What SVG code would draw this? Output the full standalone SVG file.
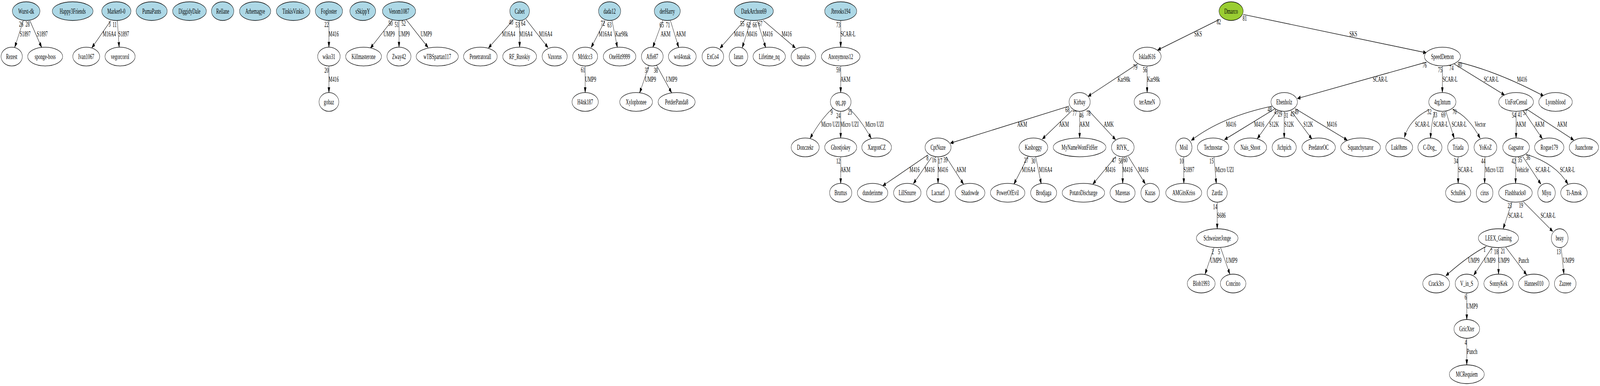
<svg xmlns="http://www.w3.org/2000/svg" width="7068" height="987" viewBox="0 0 7068 987" preserveAspectRatio="none">
<style>
svg{width:100vw;height:100vh;overflow:hidden}
text{font-family:"Liberation Serif","Times New Roman",serif;font-size:18.67px;text-anchor:middle;fill:#000}
.node ellipse{fill:#fff;stroke:#000;stroke-width:1.33}
.node.root ellipse{fill:#add8e6}
.node.top ellipse{fill:#9acd32}
#edges path{fill:none;stroke:#000;stroke-width:1.33;marker-end:url(#arr)}
</style>
<defs>
<marker id="arr" markerUnits="userSpaceOnUse" markerWidth="14" markerHeight="10" refX="13.3" refY="4.67" orient="auto">
<path d="M0,0 L13.3,4.67 L0,9.33 Z" fill="#000" stroke="#000" stroke-width="1"/>
</marker>
</defs>
<rect width="7068" height="987" fill="#fff"/>
<g id="edges">
<g><path d="M103,53 L65,121"/><text x="111" y="93.5">S1897</text><text x="93.6" y="68.5">26</text></g>
<g><path d="M132,53 L183.7,121"/><text x="186.6" y="93.5">S1897</text><text x="122" y="68.5">28</text></g>
<g><path d="M489,53 L406,122"/><text x="483" y="93.5">M16A4</text><text x="484" y="68.5">3</text></g>
<g><path d="M518.4,52.5 L526.4,121"/><text x="546.5" y="93.5">S1897</text><text x="506.3" y="69.5">11</text></g>
<g><path d="M1453,52.5 L1453,120.6"/><text x="1474" y="93.5">M416</text><text x="1442.5" y="69.5">22</text></g>
<g><path d="M1453,168.6 L1453,236.7"/><text x="1474" y="209">M416</text><text x="1442.5" y="186.5">20</text></g>
<g><path d="M1733.5,51 L1636.5,123"/><text x="1719" y="93.5">UMP9</text><text x="1725" y="66.5">50</text></g>
<g><path d="M1762.7,52.5 L1762.7,120.6"/><text x="1785" y="93.5">UMP9</text><text x="1752.5" y="69.5">51</text></g>
<g><path d="M1794,50 L1891,121.4"/><text x="1883" y="93.5">UMP9</text><text x="1783" y="66.5">52</text></g>
<g><path d="M2268.6,50 L2158,122.5"/><text x="2247" y="93.5">M16A4</text><text x="2257.4" y="63.5">40</text></g>
<g><path d="M2295.5,52.5 L2295.5,120.6"/><text x="2322.6" y="93.5">M16A4</text><text x="2286" y="70">53</text></g>
<g><path d="M2323.3,49.3 L2420.8,121.8"/><text x="2410.3" y="93.5">M16A4</text><text x="2311.4" y="66.5">64</text></g>
<g><path d="M2672.7,52.5 L2611.6,121.4"/><text x="2674" y="93.5">M16A4</text><text x="2662.9" y="66.5">72</text></g>
<g><path d="M2703.5,53 L2727.4,121.4"/><text x="2745.6" y="93.5">Kar98k</text><text x="2692.3" y="70">63</text></g>
<g><path d="M2585,168.6 L2585,236.7"/><text x="2608.8" y="209">UMP9</text><text x="2575.2" y="185">61</text></g>
<g><path d="M2866.3,169 L2825.6,237.5"/><text x="2873.3" y="209">UMP9</text><text x="2857.2" y="186.5">37</text></g>
<g><path d="M2900,166.5 L2966.6,237"/><text x="2966.6" y="209">UMP9</text><text x="2897" y="186.5">38</text></g>
<g><path d="M2928,51.5 L2884,121"/><text x="2940" y="93.5">AKM</text><text x="2923" y="70">65</text></g>
<g><path d="M2961.7,53 L2998.2,121.4"/><text x="3007.3" y="93.5">AKM</text><text x="2950.5" y="70">71</text></g>
<g><path d="M3290.7,51 L3180.6,123.2"/><text x="3264.8" y="93.5">M416</text><text x="3278.8" y="67">55</text></g>
<g><path d="M3316,53 L3278.8,122"/><text x="3322.3" y="93.5">M416</text><text x="3306.9" y="70">62</text></g>
<g><path d="M3345.5,53 L3382.6,122"/><text x="3391" y="93.5">M416</text><text x="3334.2" y="70">66</text></g>
<g><path d="M3371.4,52 L3513.8,122.5"/><text x="3475.2" y="93.5">M416</text><text x="3358.8" y="67">67</text></g>
<g><path d="M3713.8,52.5 L3713.8,120.6"/><text x="3746" y="93.5">SCAR-L</text><text x="3703.2" y="70">73</text></g>
<g><path d="M3713.8,168.6 L3713.8,236.7"/><text x="3734.8" y="209">AKM</text><text x="3703.2" y="185">59</text></g>
<g><path d="M3680,276 Q3625,305 3579,353.6"/><text x="3668.2" y="324.5">Micro UZI</text><text x="3673.8" y="293.5">9</text></g>
<g><path d="M3713.8,284.7 L3713.8,352.8"/><text x="3752.3" y="324.5">Micro UZI</text><text x="3703.2" y="302">24</text></g>
<g><path d="M3748,276 Q3802,305 3848.4,353.6"/><text x="3863.2" y="324.5">Micro UZI</text><text x="3754.4" y="293.5">25</text></g>
<g><path d="M3713.8,400.8 L3713.8,469"/><text x="3734.8" y="440.5">AKM</text><text x="3703.2" y="418.3">12</text></g>
<g><path d="M4098.2,396.4 L3899.7,475"/><text x="4040" y="440.5">M416</text><text x="4096.8" y="410">8</text></g>
<g><path d="M4115.7,401.8 L4035,469.6"/><text x="4106.6" y="440.5">M416</text><text x="4126.3" y="415.5">16</text></g>
<g><path d="M4143.8,400.8 L4143.8,469"/><text x="4165.6" y="440.5">M416</text><text x="4152.9" y="418.3">17</text></g>
<g><path d="M4178.9,400.7 L4256,470.7"/><text x="4245.5" y="440.5">AKM</text><text x="4176.8" y="415.5">39</text></g>
<g><path d="M4722.6,271.4 L4198.5,366"/><text x="4515.6" y="324.5">AKM</text><text x="4715.5" y="287">68</text></g>
<g><path d="M4736.6,282 L4604.7,355.4"/><text x="4700.1" y="324.5">AKM</text><text x="4747" y="295.8">77</text></g>
<g><path d="M4769.3,284.7 L4769.3,352.8"/><text x="4790.6" y="324.5">AKM</text><text x="4777.3" y="301">46</text></g>
<g><path d="M4808.1,282 L4928.1,357"/><text x="4897.9" y="324.5">AMK</text><text x="4808" y="295.8">78</text></g>
<g><path d="M4541.6,400 L4479.1,470.7"/><text x="4543.7" y="440.5">M16A4</text><text x="4533.1" y="416.5">27</text></g>
<g><path d="M4575.2,401 L4599.8,470.5"/><text x="4618.7" y="440.5">M16A4</text><text x="4564.7" y="418.3">30</text></g>
<g><path d="M4929.5,400 L4827.8,470.7"/><text x="4905" y="440.5">M416</text><text x="4921" y="416.5">47</text></g>
<g><path d="M4959.5,401 L4959.5,469"/><text x="4980.7" y="440.5">M416</text><text x="4950.5" y="418.3">58</text></g>
<g><path d="M4984.2,400 L5059.3,470"/><text x="5050.2" y="440.5">M416</text><text x="4971.6" y="415.5">60</text></g>
<g><path d="M5025,163.3 L4806.7,246.4"/><text x="4965" y="209.5">Kar98k</text><text x="5015" y="178.5">79</text></g>
<g><path d="M5067.5,168.6 L5067.5,236.7"/><text x="5095.7" y="209.5">Kar98k</text><text x="5057.9" y="185">56</text></g>
<g><path d="M5385.7,50 L5114,128"/><text x="5292.6" y="93">SKS</text><text x="5384" y="62.5">82</text></g>
<g><path d="M5491.6,36.8 L6300.6,135"/><text x="5978" y="93">SKS</text><text x="5498.6" y="53">81</text></g>
<g><path d="M6300.6,159 L5731.4,251.8"/><text x="6097.6" y="209.5">SCAR-L</text><text x="6293.2" y="173.5">76</text></g>
<g><path d="M5619.8,271.4 Q5396.6,298.9 5262.6,358.9"/><text x="5438" y="324.5">M416</text><text x="5609" y="286">48</text></g>
<g><path d="M5632.5,277.9 L5409.3,357"/><text x="5562.4" y="324.5">M416</text><text x="5637.6" y="292.2">43</text></g>
<g><path d="M5640.8,284 L5554.1,354.6"/><text x="5628" y="324.5">S12K</text><text x="5654.8" y="298.5">29</text></g>
<g><path d="M5673,284.7 L5673,352.8"/><text x="5694.4" y="324.5">S12K</text><text x="5681.6" y="301">31</text></g>
<g><path d="M5702.7,283 L5795.2,355.4"/><text x="5779.2" y="324.5">S12K</text><text x="5709" y="298.5">45</text></g>
<g><path d="M5721.8,277.9 L5951.4,358.2"/><text x="5883.2" y="324.5">M416</text><text x="5727" y="292.2">49</text></g>
<g><path d="M5229.5,400.8 L5229.5,469"/><text x="5251.8" y="440.5">S1897</text><text x="5219.3" y="418.3">10</text></g>
<g><path d="M5362.8,401 L5373,469.6"/><text x="5409.3" y="440.5">Micro UZI</text><text x="5351.9" y="418.3">15</text></g>
<g><path d="M5377,517 L5377,585"/><text x="5395.3" y="557">S686</text><text x="5367.9" y="534.8">14</text></g>
<g><path d="M5362.8,633.3 L5323.2,701"/><text x="5371" y="672">UMP9</text><text x="5357" y="649.8">2</text></g>
<g><path d="M5392.1,633.3 L5432.9,701"/><text x="5441.2" y="672">UMP9</text><text x="5385" y="649.8">5</text></g>
<g><path d="M6371.6,168.6 L6371.6,236.7"/><text x="6405.6" y="209">SCAR-L</text><text x="6361.7" y="185">75</text></g>
<g><path d="M6424,163.6 L6646.3,242.9"/><text x="6587.7" y="209">SCAR-L</text><text x="6411.7" y="179.7">74</text></g>
<g><path d="M6442.6,159 Q6618.5,183.6 6819.1,245.4"/><text x="6723.5" y="209">M416</text><text x="6448.8" y="172.5">80</text></g>
<g><path d="M6313,280.4 Q6225.6,305.3 6203.7,351.8"/><text x="6284" y="324.5">SCAR-L</text><text x="6314.2" y="292.2">32</text></g>
<g><path d="M6337.7,285.7 Q6324,312 6319.1,353.6"/><text x="6364.2" y="324.5">SCAR-L</text><text x="6339.5" y="300">33</text></g>
<g><path d="M6387,284.6 L6424,353.6"/><text x="6445.7" y="324.5">SCAR-L</text><text x="6376" y="300">69</text></g>
<g><path d="M6417.9,280.4 Q6487.3,297 6538.3,353.6"/><text x="6538.3" y="324.5">Vector</text><text x="6425.3" y="292.2">70</text></g>
<g><path d="M6697.3,284.7 L6697.3,352.8"/><text x="6718.5" y="324.5">AKM</text><text x="6687.7" y="301">54</text></g>
<g><path d="M6729.6,283.2 L6813,354.6"/><text x="6800.6" y="324.5">AKM</text><text x="6714.2" y="299.4">41</text></g>
<g><path d="M6745,279.6 L6951.9,357.9"/><text x="6900.6" y="324.5">AKM</text><text x="6737" y="294">57</text></g>
<g><path d="M6441.4,400.8 L6441.4,469"/><text x="6474.7" y="440.5">SCAR-L</text><text x="6431.5" y="418.3">34</text></g>
<g><path d="M6560,401 L6558.3,469"/><text x="6601.2" y="440.5">Micro UZI</text><text x="6552.5" y="418.3">44</text></g>
<g><path d="M6696.3,400.8 L6695,469"/><text x="6725.3" y="440.5">Vehicle</text><text x="6686.4" y="418.3">42</text></g>
<g><path d="M6726.5,400 L6806.8,470.7"/><text x="6816" y="440.5">SCAR-L</text><text x="6714.2" y="414.7">35</text></g>
<g><path d="M6742,394.6 C6800,405 6880,425 6926,470.7"/><text x="6924.1" y="440.5">SCAR-L</text><text x="6750" y="409.4">36</text></g>
<g><path d="M6679,516.7 L6640.1,585"/><text x="6695.7" y="557">SCAR-L</text><text x="6669.1" y="532.5">23</text></g>
<g><path d="M6729.6,516 L6859.3,591.7"/><text x="6838.9" y="557">SCAR-L</text><text x="6719.1" y="530.8">19</text></g>
<g><path d="M6566,630 Q6488.9,652.5 6387,705"/><text x="6510.5" y="672">UMP9</text><text x="6558" y="643.8">1</text></g>
<g><path d="M6590.7,633.3 L6510.5,703.3"/><text x="6581.5" y="672">UMP9</text><text x="6587.7" y="649.5">7</text></g>
<g><path d="M6619.8,633 L6619.8,701"/><text x="6643.2" y="672">UMP9</text><text x="6609.3" y="649.8">18</text></g>
<g><path d="M6651.2,631.7 L6743.8,702.7"/><text x="6730.9" y="672">Punch</text><text x="6638.9" y="648.2">21</text></g>
<g><path d="M6896.3,633.3 L6908.6,701"/><text x="6929" y="672">UMP9</text><text x="6885.2" y="649.8">13</text></g>
<g><path d="M6479.5,749 L6479.5,817"/><text x="6503.1" y="789">UMP9</text><text x="6474.7" y="765.8">6</text></g>
<g><path d="M6479.5,864.7 L6479.5,932.7"/><text x="6503.1" y="905">Punch</text><text x="6474.7" y="882.5">4</text></g>
</g>
<g id="n_Wurst-dk" class="node root"><ellipse cx="115.5" cy="28.5" rx="61" ry="24"/><text x="115.5" y="35">Wurst-dk</text></g>
<g id="n_Happy3Friends" class="node root"><ellipse cx="321" cy="28.5" rx="90" ry="24"/><text x="321" y="35">Happy3Friends</text></g>
<g id="n_Marker0-0" class="node root"><ellipse cx="514" cy="28.5" rx="64.5" ry="24"/><text x="514" y="35">Marker0-0</text></g>
<g id="n_PumaPants" class="node root"><ellipse cx="670" cy="28.5" rx="68.6" ry="24"/><text x="670" y="35">PumaPants</text></g>
<g id="n_DiggidyDale" class="node root"><ellipse cx="837" cy="28.5" rx="74.6" ry="24"/><text x="837" y="35">DiggidyDale</text></g>
<g id="n_Rellane" class="node root"><ellipse cx="983.5" cy="28.5" rx="49.4" ry="24"/><text x="983.5" y="35">Rellane</text></g>
<g id="n_Arhemagye" class="node root"><ellipse cx="1127" cy="28.5" rx="69" ry="24"/><text x="1127" y="35">Arhemagye</text></g>
<g id="n_TinkisVinkis" class="node root"><ellipse cx="1295" cy="28.5" rx="74.4" ry="24"/><text x="1295" y="35">TinkisVinkis</text></g>
<g id="n_Fogloster" class="node root"><ellipse cx="1453" cy="28.5" rx="60.3" ry="24"/><text x="1453" y="35">Fogloster</text></g>
<g id="n_sSkippY" class="node root"><ellipse cx="1602.5" cy="28.5" rx="57" ry="24"/><text x="1602.5" y="35">sSkippY</text></g>
<g id="n_Venom1087" class="node root"><ellipse cx="1762.7" cy="28.5" rx="73.3" ry="24"/><text x="1762.7" y="35">Venom1087</text></g>
<g id="n_Cabet" class="node root"><ellipse cx="2295.5" cy="28.5" rx="43.5" ry="24"/><text x="2295.5" y="35">Cabet</text></g>
<g id="n_dada12" class="node root"><ellipse cx="2693" cy="28.5" rx="49" ry="24"/><text x="2693" y="35">dada12</text></g>
<g id="n_derHarry" class="node root"><ellipse cx="2947.7" cy="28.5" rx="57.5" ry="24"/><text x="2947.7" y="35">derHarry</text></g>
<g id="n_DarkArchon69" class="node root"><ellipse cx="3330" cy="28.5" rx="86.3" ry="24"/><text x="3330" y="35">DarkArchon69</text></g>
<g id="n_Jbrooks194" class="node root"><ellipse cx="3713.8" cy="28.5" rx="70.8" ry="24"/><text x="3713.8" y="35">Jbrooks194</text></g>
<g id="n_Dmarco" class="node top"><ellipse cx="5438.3" cy="28.5" rx="53.3" ry="24"/><text x="5438.3" y="35">Dmarco</text></g>
<g id="n_Rezest" class="node"><ellipse cx="51.7" cy="144.6" rx="47" ry="24"/><text x="51.7" y="151.1">Rezest</text></g>
<g id="n_sponge-boss" class="node"><ellipse cx="199.5" cy="144.6" rx="77.2" ry="24"/><text x="199.5" y="151.1">sponge-boss</text></g>
<g id="n_Ivan1067" class="node"><ellipse cx="381" cy="144.6" rx="59.4" ry="24"/><text x="381" y="151.1">Ivan1067</text></g>
<g id="n_vegorcorol" class="node"><ellipse cx="530.4" cy="144.6" rx="66.6" ry="24"/><text x="530.4" y="151.1">vegorcorol</text></g>
<g id="n_wiko31" class="node"><ellipse cx="1453" cy="144.6" rx="49.7" ry="24"/><text x="1453" y="151.1">wiko31</text></g>
<g id="n_Killmasterone" class="node"><ellipse cx="1606" cy="144.6" rx="79.2" ry="24"/><text x="1606" y="151.1">Killmasterone</text></g>
<g id="n_Zway42" class="node"><ellipse cx="1762.5" cy="144.6" rx="53" ry="24"/><text x="1762.5" y="151.1">Zway42</text></g>
<g id="n_wTBSpartan117" class="node"><ellipse cx="1931.6" cy="144.6" rx="93" ry="24"/><text x="1931.6" y="151.1">wTBSpartan117</text></g>
<g id="n_Penetratorall" class="node"><ellipse cx="2122" cy="144.6" rx="74.4" ry="24"/><text x="2122" y="151.1">Penetratorall</text></g>
<g id="n_RF_Russkiy" class="node"><ellipse cx="2295.5" cy="144.6" rx="74.7" ry="24"/><text x="2295.5" y="151.1">RF_Russkiy</text></g>
<g id="n_Vaxorus" class="node"><ellipse cx="2450.3" cy="144.6" rx="55.4" ry="24"/><text x="2450.3" y="151.1">Vaxorus</text></g>
<g id="n_Mrldcc3" class="node"><ellipse cx="2585" cy="144.6" rx="55" ry="24"/><text x="2585" y="151.1">Mrldcc3</text></g>
<g id="n_OneHit9999" class="node"><ellipse cx="2737" cy="144.6" rx="72" ry="24"/><text x="2737" y="151.1">OneHit9999</text></g>
<g id="n_Affe87" class="node"><ellipse cx="2881.4" cy="144.6" rx="48" ry="24"/><text x="2881.4" y="151.1">Affe87</text></g>
<g id="n_wol4onak" class="node"><ellipse cx="3014" cy="144.6" rx="61.4" ry="24"/><text x="3014" y="151.1">wol4onak</text></g>
<g id="n_ExCo4" class="node"><ellipse cx="3149" cy="144.6" rx="47.7" ry="24"/><text x="3149" y="151.1">ExCo4</text></g>
<g id="n_Ianan" class="node"><ellipse cx="3262.3" cy="144.6" rx="41" ry="24"/><text x="3262.3" y="151.1">Ianan</text></g>
<g id="n_Lifetime_nq" class="node"><ellipse cx="3398" cy="144.6" rx="71.5" ry="24"/><text x="3398" y="151.1">Lifetime_nq</text></g>
<g id="n_bapalus" class="node"><ellipse cx="3549" cy="144.6" rx="54.4" ry="24"/><text x="3549" y="151.1">bapalus</text></g>
<g id="n_Anonymous12" class="node"><ellipse cx="3713.8" cy="144.6" rx="85.2" ry="24"/><text x="3713.8" y="151.1">Anonymous12</text></g>
<g id="n_Isklad616" class="node"><ellipse cx="5067.5" cy="144.6" rx="61.7" ry="24"/><text x="5067.5" y="151.1">Isklad616</text></g>
<g id="n_SpeedDemon" class="node"><ellipse cx="6372" cy="144.6" rx="79.6" ry="24"/><text x="6372" y="151.1">SpeedDemon</text></g>
<g id="n_gobaz" class="node"><ellipse cx="1453" cy="260.7" rx="43.6" ry="24"/><text x="1453" y="267.2">gobaz</text></g>
<g id="n_H4nk187" class="node"><ellipse cx="2585" cy="260.7" rx="58" ry="24"/><text x="2585" y="267.2">H4nk187</text></g>
<g id="n_Xylophonee" class="node"><ellipse cx="2810" cy="260.7" rx="72.3" ry="24"/><text x="2810" y="267.2">Xylophonee</text></g>
<g id="n_PetderPanda8" class="node"><ellipse cx="2989" cy="260.7" rx="81.7" ry="24"/><text x="2989" y="267.2">PetderPanda8</text></g>
<g id="n_qq_pp" class="node"><ellipse cx="3713.8" cy="260.7" rx="45.6" ry="24"/><text x="3713.8" y="267.2">qq_pp</text></g>
<g id="n_Kirbay" class="node"><ellipse cx="4769.3" cy="260.7" rx="46.7" ry="24"/><text x="4769.3" y="267.2">Kirbay</text></g>
<g id="n_terAmeN" class="node"><ellipse cx="5067.5" cy="260.7" rx="57.5" ry="24"/><text x="5067.5" y="267.2">terAmeN</text></g>
<g id="n_Ebenholz" class="node"><ellipse cx="5673" cy="260.7" rx="58.4" ry="24"/><text x="5673" y="267.2">Ebenholz</text></g>
<g id="n_4rg3ntum" class="node"><ellipse cx="6371.6" cy="260.7" rx="60" ry="24"/><text x="6371.6" y="267.2">4rg3ntum</text></g>
<g id="n_UnForCereal" class="node"><ellipse cx="6697.3" cy="260.7" rx="76.8" ry="24"/><text x="6697.3" y="267.2">UnForCereal</text></g>
<g id="n_Lyonsblood" class="node"><ellipse cx="6871.6" cy="260.7" rx="74.1" ry="24"/><text x="6871.6" y="267.2">Lyonsblood</text></g>
<g id="n_Donczekr" class="node"><ellipse cx="3557" cy="376.8" rx="62" ry="24"/><text x="3557" y="383.3">Donczekr</text></g>
<g id="n_Ghostjokey" class="node"><ellipse cx="3713.8" cy="376.8" rx="70.8" ry="24"/><text x="3713.8" y="383.3">Ghostjokey</text></g>
<g id="n_XargonCZ" class="node"><ellipse cx="3872.6" cy="376.8" rx="65.6" ry="24"/><text x="3872.6" y="383.3">XargonCZ</text></g>
<g id="n_CptNuze" class="node"><ellipse cx="4143.8" cy="376.8" rx="57.5" ry="24"/><text x="4143.8" y="383.3">CptNuze</text></g>
<g id="n_Kashoggy" class="node"><ellipse cx="4565" cy="376.8" rx="63.5" ry="24"/><text x="4565" y="383.3">Kashoggy</text></g>
<g id="n_MyNameWontFitHer" class="node"><ellipse cx="4769" cy="376.8" rx="116.5" ry="24"/><text x="4769" y="383.3">MyNameWontFitHer</text></g>
<g id="n_RIYK_" class="node"><ellipse cx="4960" cy="376.8" rx="50" ry="24"/><text x="4960" y="383.3">RIYK_</text></g>
<g id="n_Moil" class="node"><ellipse cx="5229.5" cy="376.8" rx="36" ry="24"/><text x="5229.5" y="383.3">Moil</text></g>
<g id="n_Technostar" class="node"><ellipse cx="5358.9" cy="376.8" rx="69.5" ry="24"/><text x="5358.9" y="383.3">Technostar</text></g>
<g id="n_Nais_Shoot" class="node"><ellipse cx="5523.8" cy="376.8" rx="71.7" ry="24"/><text x="5523.8" y="383.3">Nais_Shoot</text></g>
<g id="n_Jichpich" class="node"><ellipse cx="5673" cy="376.8" rx="53.3" ry="24"/><text x="5673" y="383.3">Jichpich</text></g>
<g id="n_PredatorOC" class="node"><ellipse cx="5825.1" cy="376.8" rx="74" ry="24"/><text x="5825.1" y="383.3">PredatorOC</text></g>
<g id="n_Squanchynaror" class="node"><ellipse cx="6010.4" cy="376.8" rx="87.7" ry="24"/><text x="6010.4" y="383.3">Squanchynaror</text></g>
<g id="n_Luk0hms" class="node"><ellipse cx="6180.9" cy="376.8" rx="59.3" ry="24"/><text x="6180.9" y="383.3">Luk0hms</text></g>
<g id="n_C-Dog_" class="node"><ellipse cx="6316.7" cy="376.8" rx="53.1" ry="24"/><text x="6316.7" y="383.3">C-Dog_</text></g>
<g id="n_Triada" class="node"><ellipse cx="6441" cy="376.8" rx="46" ry="24"/><text x="6441" y="383.3">Triada</text></g>
<g id="n_YoKoZ" class="node"><ellipse cx="6562" cy="376.8" rx="50.3" ry="24"/><text x="6562" y="383.3">YoKoZ</text></g>
<g id="n_Gagsator" class="node"><ellipse cx="6697.3" cy="376.8" rx="59" ry="24"/><text x="6697.3" y="383.3">Gagsator</text></g>
<g id="n_Rogue179" class="node"><ellipse cx="6843.8" cy="376.8" rx="64.8" ry="24"/><text x="6843.8" y="383.3">Rogue179</text></g>
<g id="n_Juanchone" class="node"><ellipse cx="6996.9" cy="376.8" rx="64.8" ry="24"/><text x="6996.9" y="383.3">Juanchone</text></g>
<g id="n_Bruttus" class="node"><ellipse cx="3713.8" cy="492.9" rx="49" ry="24"/><text x="3713.8" y="499.4">Bruttus</text></g>
<g id="n_dunderinme" class="node"><ellipse cx="3854.7" cy="492.9" rx="67.3" ry="24"/><text x="3854.7" y="499.4">dunderinme</text></g>
<g id="n_LillSnurre" class="node"><ellipse cx="4008" cy="492.9" rx="60.6" ry="24"/><text x="4008" y="499.4">LillSnurre</text></g>
<g id="n_Lacnarf" class="node"><ellipse cx="4143.8" cy="492.9" rx="50.5" ry="24"/><text x="4143.8" y="499.4">Lacnarf</text></g>
<g id="n_Shadowde" class="node"><ellipse cx="4285.2" cy="492.9" rx="65.6" ry="24"/><text x="4285.2" y="499.4">Shadowde</text></g>
<g id="n_PowerOfEvil" class="node"><ellipse cx="4451.4" cy="492.9" rx="76.1" ry="24"/><text x="4451.4" y="499.4">PowerOfEvil</text></g>
<g id="n_Brodjaga" class="node"><ellipse cx="4610.3" cy="492.9" rx="57.5" ry="24"/><text x="4610.3" y="499.4">Brodjaga</text></g>
<g id="n_PotatoDischarge" class="node"><ellipse cx="4786" cy="492.9" rx="93.7" ry="24"/><text x="4786" y="499.4">PotatoDischarge</text></g>
<g id="n_Marenas" class="node"><ellipse cx="4959" cy="492.9" rx="55.4" ry="24"/><text x="4959" y="499.4">Marenas</text></g>
<g id="n_Kazas" class="node"><ellipse cx="5081" cy="492.9" rx="41" ry="24"/><text x="5081" y="499.4">Kazas</text></g>
<g id="n_AMGitsKriss" class="node"><ellipse cx="5229.1" cy="492.9" rx="79.4" ry="24"/><text x="5229.1" y="499.4">AMGitsKriss</text></g>
<g id="n_Zardiz" class="node"><ellipse cx="5377" cy="492.9" rx="44.3" ry="24"/><text x="5377" y="499.4">Zardiz</text></g>
<g id="n_Schullek" class="node"><ellipse cx="6441.4" cy="492.9" rx="55.6" ry="24"/><text x="6441.4" y="499.4">Schullek</text></g>
<g id="n_cirus" class="node"><ellipse cx="6558.3" cy="492.9" rx="36.7" ry="24"/><text x="6558.3" y="499.4">cirus</text></g>
<g id="n_Flashbacks0" class="node"><ellipse cx="6694.5" cy="492.9" rx="74.1" ry="24"/><text x="6694.5" y="499.4">Flashbacks0</text></g>
<g id="n_Miyu" class="node"><ellipse cx="6831.8" cy="492.9" rx="38.6" ry="24"/><text x="6831.8" y="499.4">Miyu</text></g>
<g id="n_Ti-Amok" class="node"><ellipse cx="6953" cy="492.9" rx="58.6" ry="24"/><text x="6953" y="499.4">Ti-Amok</text></g>
<g id="n_SchweizerJonge" class="node"><ellipse cx="5377" cy="609" rx="91.8" ry="24"/><text x="5377" y="615.5">SchweizerJonge</text></g>
<g id="n_LEEX_Gaming" class="node"><ellipse cx="6619.5" cy="609" rx="88.6" ry="24"/><text x="6619.5" y="615.5">LEEX_Gaming</text></g>
<g id="n_beay" class="node"><ellipse cx="6890" cy="609" rx="37" ry="24"/><text x="6890" y="615.5">beay</text></g>
<g id="n_Blob1993" class="node"><ellipse cx="5306.3" cy="725" rx="61.5" ry="24"/><text x="5306.3" y="731.5">Blob1993</text></g>
<g id="n_Concino" class="node"><ellipse cx="5447.3" cy="725" rx="56.4" ry="24"/><text x="5447.3" y="731.5">Concino</text></g>
<g id="n_Crack3rs" class="node"><ellipse cx="6344.4" cy="725" rx="59.3" ry="24"/><text x="6344.4" y="731.5">Crack3rs</text></g>
<g id="n_V_in_S" class="node"><ellipse cx="6479.3" cy="725" rx="51" ry="24"/><text x="6479.3" y="731.5">V_in_S</text></g>
<g id="n_SonnyKek" class="node"><ellipse cx="6619.8" cy="725" rx="64.8" ry="24"/><text x="6619.8" y="731.5">SonnyKek</text></g>
<g id="n_Hannes010" class="node"><ellipse cx="6776" cy="725" rx="67.9" ry="24"/><text x="6776" y="731.5">Hannes010</text></g>
<g id="n_Zazeee" class="node"><ellipse cx="6914.5" cy="725" rx="47.8" ry="24"/><text x="6914.5" y="731.5">Zazeee</text></g>
<g id="n_GricXter" class="node"><ellipse cx="6479.6" cy="841" rx="56.8" ry="24"/><text x="6479.6" y="847.5">GricXter</text></g>
<g id="n_MCRequiem" class="node"><ellipse cx="6479.6" cy="957" rx="77.2" ry="24"/><text x="6479.6" y="963.5">MCRequiem</text></g>
</svg>
